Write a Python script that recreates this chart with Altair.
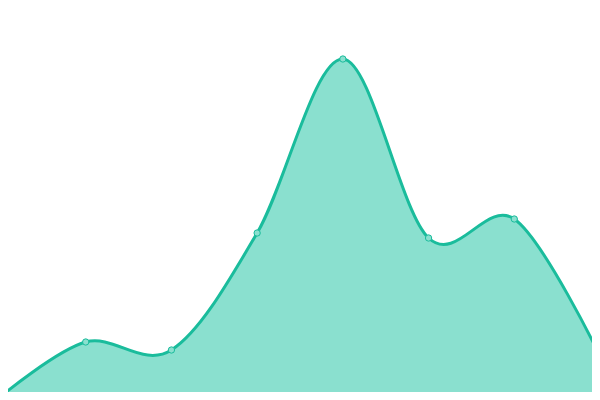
import altair as alt
import pandas as pd

idx = [0, 1, 2, 3, 4, 5, 6, 7]
values = [3, 58, 50, 167, 341, 162, 181, 44]

df = pd.DataFrame({"i": idx, "v": values})

LINE = "#1abc9c"
FILL = "#8ae0cf"

x = alt.X("i:Q", axis=None, scale=alt.Scale(domain=[0.0933, 6.9067], nice=False, zero=False))
y = alt.Y("v:Q", axis=None, scale=alt.Scale(domain=[8, 392], nice=False, zero=False))

base = alt.Chart(df)
area = base.mark_area(interpolate="cardinal", color=FILL, opacity=1, clip=True).encode(
    x=x, y=y, y2=alt.datum(0))
line = base.mark_line(interpolate="cardinal", color=LINE, strokeWidth=3, clip=True).encode(x=x, y=y)
pts = base.mark_point(filled=True, fill=FILL, stroke=LINE, strokeWidth=1, size=40, opacity=1, clip=True).encode(x=x, y=y)

chart = (area + line + pts).properties(width=584, height=384, padding=0, background="white").configure_view(stroke=None)

chart.save("out.html", embed_options={"renderer": "svg", "actions": False})
